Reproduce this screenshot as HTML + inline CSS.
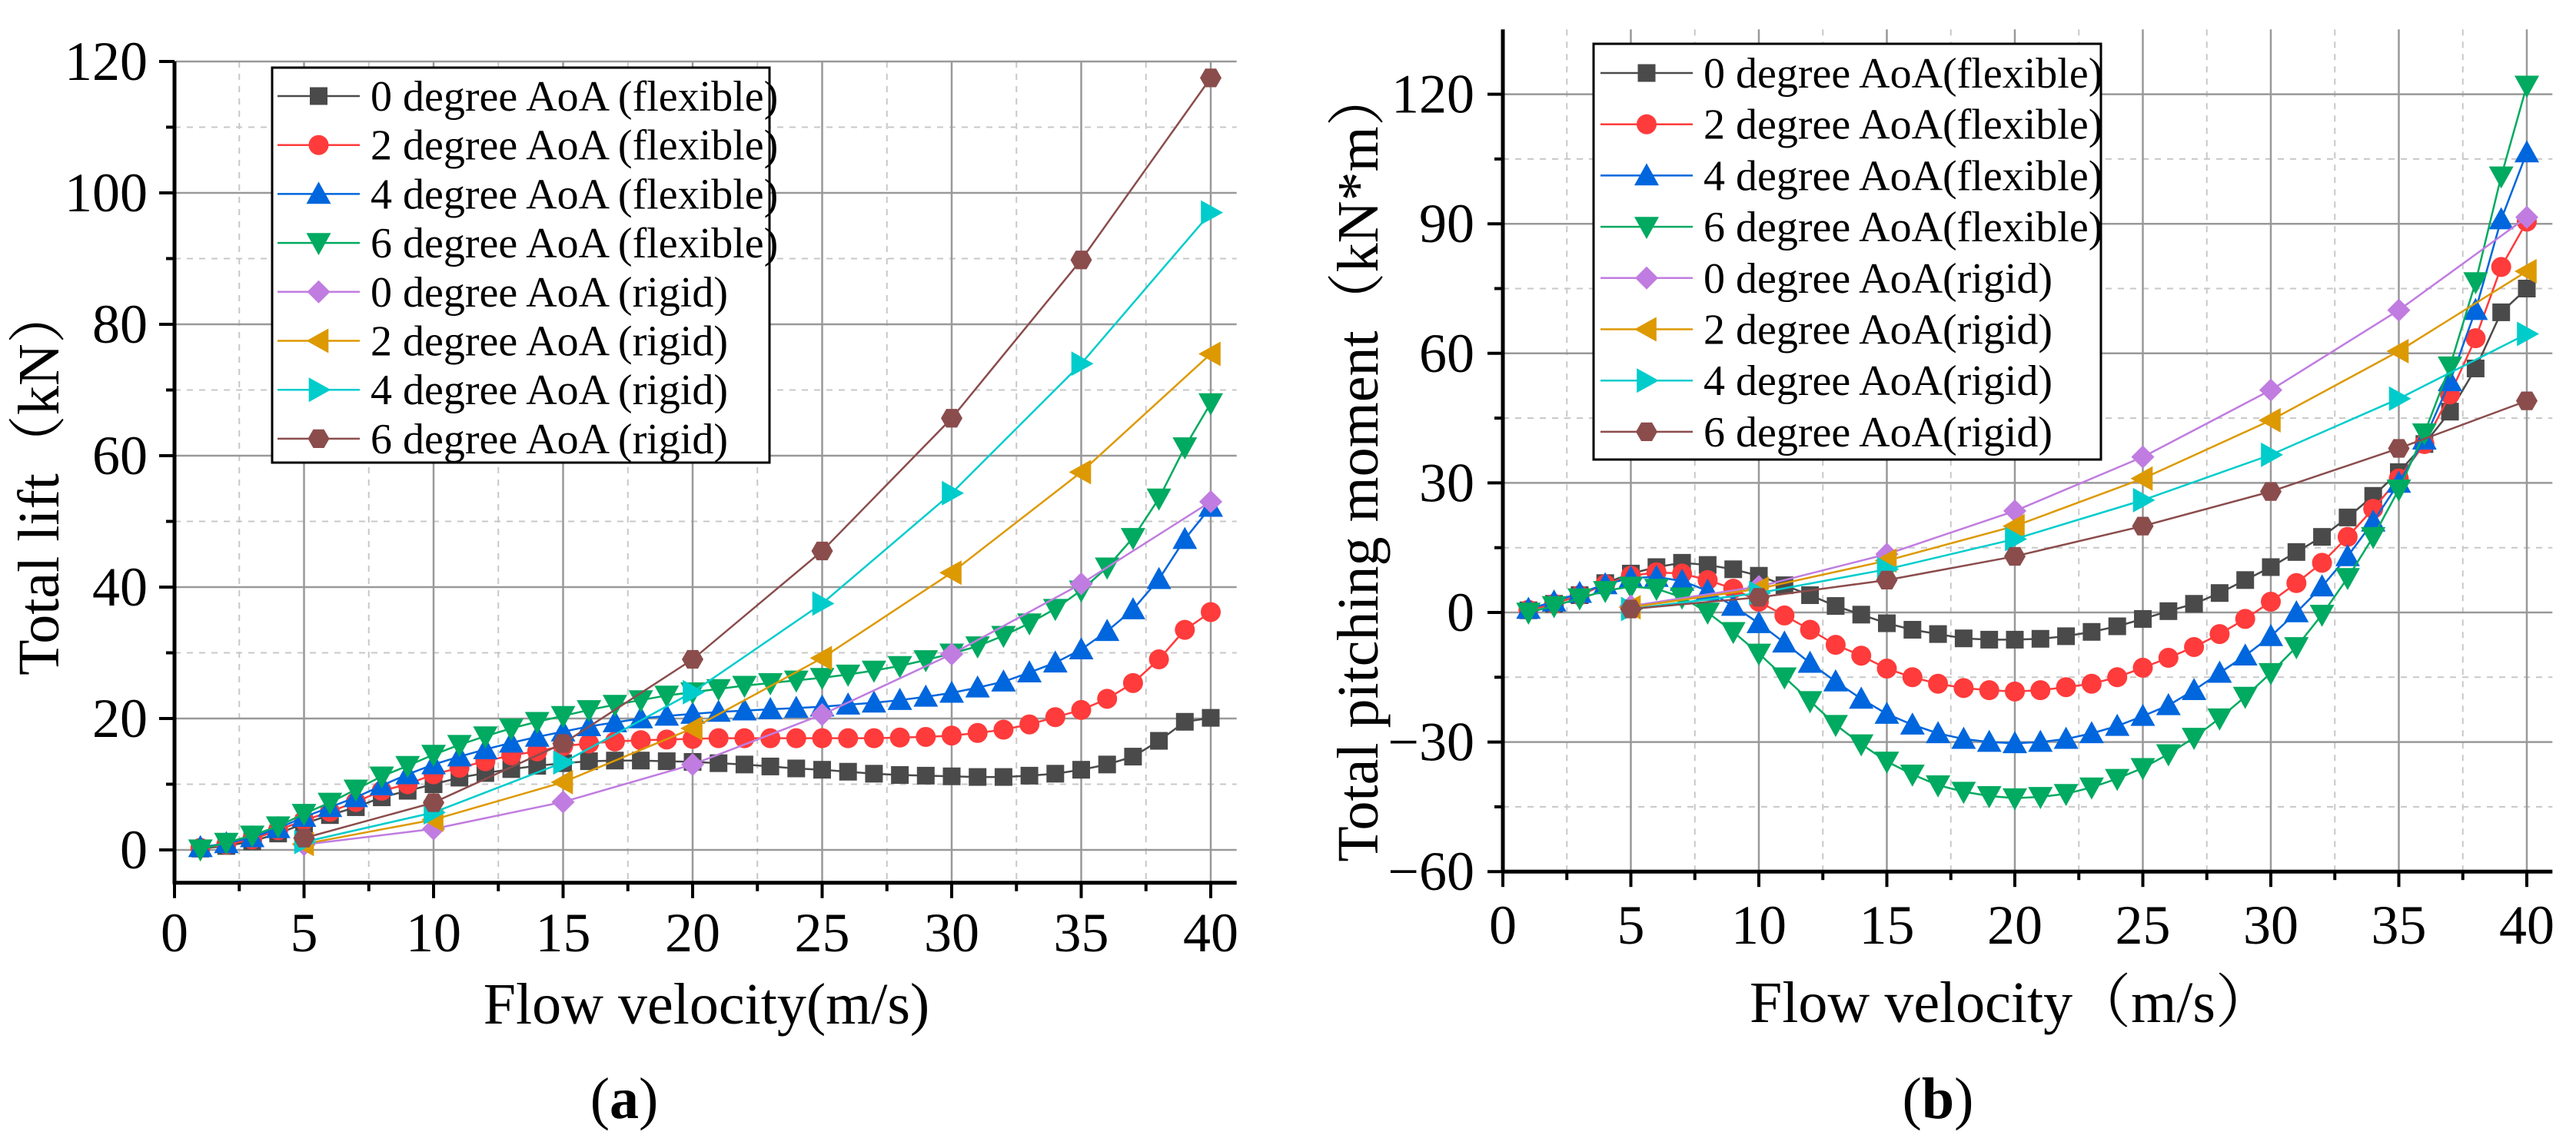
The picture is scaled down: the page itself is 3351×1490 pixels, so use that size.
<!DOCTYPE html>
<html><head><meta charset="utf-8"><style>
html,body{margin:0;padding:0;background:#fff}
svg{display:block;font-family:"Liberation Serif","Times New Roman","Noto Serif CJK SC",serif}
svg text{font-family:"Liberation Serif","Times New Roman","Noto Serif CJK SC",serif;fill:#000}
</style></head><body>
<svg id="fig" width="3351" height="1490" viewBox="0 0 3351 1490" xmlns="http://www.w3.org/2000/svg" font-family="Liberation Serif, Noto Serif CJK SC, serif"></svg>
<script>
const velocities = Array.from({length:40},(_,i)=>i+1);
const rigidVelocities = [5,10,15,20,25,30,35,40];
const xTicks = [0,5,10,15,20,25,30,35,40];
const liftYTicks = [0,20,40,60,80,100,120];
const momentYTicks = [-60,-30,0,30,60,90,120];

const lift0f=[0.2,0.6,1.3,2.5,4,5.3,6.5,8,9,10,11,11.7,12.3,12.8,13.2,13.5,13.6,13.6,13.5,13.4,13.2,13,12.7,12.4,12.2,11.9,11.6,11.4,11.3,11.2,11.1,11.1,11.3,11.6,12.2,13,14.2,16.6,19.5,20.1];
const lift2f=[0.3,0.8,1.6,3,4.5,5.8,7.3,9,10,11.5,12.5,13.5,14.4,15,15.8,16.2,16.5,16.7,16.8,16.9,17,17,17,17,17,17,17,17.1,17.2,17.4,17.8,18.3,19.1,20.2,21.3,23,25.4,29,33.5,36.2];
const lift4f=[0.4,1,1.9,3.3,5,6.5,8,9.8,11.5,13,14.2,15.3,16.3,17.2,18,18.8,19.4,20,20.4,20.7,21,21.2,21.4,21.6,21.8,22.1,22.4,22.8,23.3,23.9,24.7,25.6,27,28.5,30.5,33.3,36.6,41.2,47.3,52.2];
const lift6f=[0.1,1.1,2.2,3.6,5.5,7.2,9.2,11.2,12.8,14.5,16,17.3,18.5,19.5,20.4,21.3,22.1,22.8,23.5,24,24.5,25,25.4,25.8,26.2,26.7,27.3,28,28.9,29.9,31,32.6,34.5,36.7,39.5,43,47.5,53.5,61.3,68];
const lift0r=[0.8,3.2,7.3,13,20.6,29.8,40.5,53];
const lift2r=[0.9,4.6,10.3,18.5,29.2,42.2,57.5,75.5];
const lift4r=[1.2,5.7,13.3,24,37.5,54.3,74,97];
const lift6r=[1.8,7.2,16.2,29,45.5,65.7,89.8,117.5];

const mom0f=[0.5,2,4,6.8,9,10.5,11.5,11,10,8.5,6.3,4,1.5,-0.5,-2.5,-4,-5,-6,-6.3,-6.3,-6.1,-5.5,-4.5,-3.2,-1.5,0.3,2,4.5,7.5,10.5,14,17.5,22,27,32.5,39,46.5,56.5,69.5,75];
const mom2f=[0.6,2,4,6.5,8.5,9.3,9,7.5,5.5,2.5,-0.7,-4,-7.5,-10,-13,-15,-16.5,-17.5,-18,-18.3,-18,-17.3,-16.5,-15,-12.8,-10.5,-8,-5,-1.5,2.5,6.8,11.5,17.5,24,31,39,50.5,63.5,80,90.5];
const mom4f=[0.8,2.5,4.5,6.5,8,8.2,7.3,5,1.5,-2.5,-7,-11.7,-16,-20,-23.5,-26,-28,-29.3,-30,-30.3,-30,-29.3,-28,-26.3,-24,-21.5,-18,-14,-10,-5.5,0,6,13,21,30,40,53.5,70,91,106.5];
const mom6f=[0,1.5,3.3,5,6,5.5,3.5,0,-4.5,-9.5,-15,-20.5,-26,-30.5,-34.5,-37.5,-40,-41.5,-42.5,-43,-42.7,-42,-40.5,-38.5,-36,-32.8,-29,-24.5,-19.5,-14,-8,-0.5,8,17.5,28.5,41.5,57,76.5,101,122];
const mom0r=[1.5,6,13.5,23.5,36,51.5,70,91.5];
const mom2r=[1.2,5.5,12,20,31,44.5,60.5,79];
const mom4r=[0.8,4.5,10,17,26,36.5,49.5,64.5];
const mom6r=[0.8,3.5,7.5,13,20,28,38,49];

const NS="http://www.w3.org/2000/svg";
const FONT='"Liberation Serif","Noto Serif CJK SC",serif';
const svg=document.getElementById('fig');
function mk(tag,attrs,parent){const e=document.createElementNS(NS,tag);for(const k in attrs)e.setAttribute(k,attrs[k]);if(tag==='text'){e.setAttribute('font-family',FONT);e.style.fontFamily=FONT;}(parent||svg).appendChild(e);return e;}

const styles=[
 {c:'#4a4a4a',m:'square'},{c:'#ff3b3b',m:'circle'},{c:'#0066dd',m:'up'},{c:'#00aa60',m:'down'},
 {c:'#c07ce0',m:'diamond'},{c:'#dd9900',m:'left'},{c:'#00cccc',m:'right'},{c:'#8b4c4c',m:'hex'}];

function marker(g,type,x,y,c){
  let e;
  if(type==='square') e=mk('rect',{x:x-11.5,y:y-11.5,width:23,height:23,fill:c},g);
  else if(type==='circle') e=mk('circle',{cx:x,cy:y,r:13,fill:c},g);
  else {
    let p;
    const s=16;
    if(type==='up') p=[[x,y-s],[x+s,y+s*0.8],[x-s,y+s*0.8]];
    else if(type==='down') p=[[x,y+s],[x+s,y-s*0.8],[x-s,y-s*0.8]];
    else if(type==='left') p=[[x-s,y],[x+s*0.8,y-s],[x+s*0.8,y+s]];
    else if(type==='right') p=[[x+s,y],[x-s*0.8,y-s],[x-s*0.8,y+s]];
    else if(type==='diamond') p=[[x,y-15],[x+15,y],[x,y+15],[x-15,y]];
    else {p=[];for(let i=0;i<6;i++){const a=Math.PI/3*i;p.push([x+14*Math.cos(a),y+14*Math.sin(a)]);}}
    e=mk('polygon',{points:p.map(q=>q.join(',')).join(' '),fill:c},g);
  }
  
  
}

function chart(cfg){
  const g=mk('g',{});
  
  
  const X=v=>cfg.x0+(v)*cfg.px;
  const Y=v=>cfg.y0-(v-cfg.yZero)*cfg.py;
  const left=X(0), right=X(41), top=Y(cfg.yMax), bottom=Y(cfg.yMin);
  for(let v=2.5;v<41;v+=5){const l=mk('line',{x1:X(v),x2:X(v),y1:top,y2:bottom,stroke:'#c8c8c8','stroke-width':2,'stroke-dasharray':'8,8'},g);}
  for(let i=0;i<cfg.yTicks.length-1;i++){const v=(cfg.yTicks[i]+cfg.yTicks[i+1])/2;const l=mk('line',{x1:left,x2:right,y1:Y(v),y2:Y(v),stroke:'#c8c8c8','stroke-width':2,'stroke-dasharray':'8,8'},g);}
  xTicks.forEach(v=>{if(v>0){const l=mk('line',{x1:X(v),x2:X(v),y1:top,y2:bottom,stroke:'#999','stroke-width':2.5},g);}});
  cfg.yTicks.forEach(v=>{const l=mk('line',{x1:left,x2:right,y1:Y(v),y2:Y(v),stroke:'#999','stroke-width':2.5},g);});
  const all=cfg.series;
  all.forEach((s,i)=>{
    const st=styles[i];
    const sg=mk('g',{},g);
    
    
    const pts=s.y.map((v,k)=>[X(s.x[k]),Y(v)]);
    mk('polyline',{points:pts.map(p=>p.join(',')).join(' '),fill:'none',stroke:st.c,'stroke-width':2.5},sg);
    pts.forEach(p=>marker(sg,st.m,p[0],p[1],st.c));
  });
  const ax=mk('line',{x1:left,x2:left,y1:top,y2:bottom+2,stroke:'#000','stroke-width':5},g);
  
  const bx=mk('line',{x1:left-2,x2:right,y1:bottom,y2:bottom,stroke:'#000','stroke-width':5},g);
  
  xTicks.forEach(v=>{
    mk('line',{x1:X(v),x2:X(v),y1:bottom,y2:bottom+20,stroke:'#000','stroke-width':4},g);
    if(v<40) mk('line',{x1:X(v+2.5),x2:X(v+2.5),y1:bottom,y2:bottom+11,stroke:'#000','stroke-width':4},g);
    const t=mk('text',{x:X(v),y:cfg.xLabelY,'font-size':72,'text-anchor':'middle'},g);
    t.textContent=v;
    
  });
  cfg.yTicks.forEach((v,i)=>{
    mk('line',{x1:left-20,x2:left,y1:Y(v),y2:Y(v),stroke:'#000','stroke-width':4},g);
    if(i<cfg.yTicks.length-1) mk('line',{x1:left-11,x2:left,y1:Y((v+cfg.yTicks[i+1])/2),y2:Y((v+cfg.yTicks[i+1])/2),stroke:'#000','stroke-width':4},g);
    const t=mk('text',{x:cfg.yLabelX,y:Y(v)+24,'font-size':72,'text-anchor':'end'},g);
    t.textContent=(v<0?'\u2212'+(-v):v);
    
  });
  const xt=mk('text',{x:cfg.xTitleX,y:cfg.xTitleY,'font-size':76,'text-anchor':'middle'},g);
  xt.textContent=cfg.xTitle;
  const yt=mk('text',{x:0,y:0,'font-size':76,'text-anchor':'middle',transform:`translate(${cfg.yTitleX},${cfg.yTitleY}) rotate(-90)`},g);
  yt.textContent=cfg.yTitle;
  const pl=mk('text',{x:cfg.panelX,y:1455,'font-size':76,'text-anchor':'middle'},g);
  pl.innerHTML='(<tspan font-weight="bold">'+cfg.panel+'</tspan>)';
  
  const lg=mk('g',{},g);
  
  mk('rect',{x:cfg.lg.x,y:cfg.lg.y,width:cfg.lg.w,height:cfg.lg.h,fill:'#fff',stroke:'#000','stroke-width':3},lg);
  all.forEach((s,i)=>{
    const st=styles[i];
    const cy=cfg.lg.row0+i*cfg.lg.dy;
    const e=mk('g',{},lg);
    
    mk('line',{x1:cfg.lg.l1,x2:cfg.lg.l2,y1:cy,y2:cy,stroke:st.c,'stroke-width':2.5},e);
    marker(e,st.m,(cfg.lg.l1+cfg.lg.l2)/2,cy,st.c);
    const t=mk('text',{x:cfg.lg.tx,y:cy+19,'font-size':56},e);
    t.textContent=s.label;
  });
}

chart({name:'lift-chart',panel:'a',panelX:812,x0:227,px:33.7,y0:1106,yZero:0,py:8.55,yMin:-5,yMax:120,yTicks:liftYTicks,
 xLabelY:1238,yLabelX:192,xTitle:'Flow velocity(m/s)',xTitleX:919,xTitleY:1332,yTitle:'Total lift（kN）',yTitleX:76,yTitleY:625,
 lg:{x:354,y:88,w:647,h:514,row0:125,dy:63.7,l1:361,l2:468,tx:482},
 series:[
  {label:'0 degree AoA (flexible)',x:velocities,y:lift0f},{label:'2 degree AoA (flexible)',x:velocities,y:lift2f},
  {label:'4 degree AoA (flexible)',x:velocities,y:lift4f},{label:'6 degree AoA (flexible)',x:velocities,y:lift6f},
  {label:'0 degree AoA (rigid)',x:rigidVelocities,y:lift0r},{label:'2 degree AoA (rigid)',x:rigidVelocities,y:lift2r},
  {label:'4 degree AoA (rigid)',x:rigidVelocities,y:lift4r},{label:'6 degree AoA (rigid)',x:rigidVelocities,y:lift6r}]});

chart({name:'moment-chart',panel:'b',panelX:2521,x0:1955,px:33.3,y0:797,yZero:0,py:5.62,yMin:-60,yMax:135,yTicks:momentYTicks,
 xLabelY:1228,yLabelX:1918,xTitle:'Flow velocity（m/s）',xTitleX:2617,xTitleY:1330,yTitle:'Total pitching moment（kN*m）',yTitleX:1792,yTitleY:605,
 lg:{x:2073,y:57,w:660,h:541,row0:95,dy:66.7,l1:2082,l2:2202,tx:2216},
 series:[
  {label:'0 degree AoA(flexible)',x:velocities,y:mom0f},{label:'2 degree AoA(flexible)',x:velocities,y:mom2f},
  {label:'4 degree AoA(flexible)',x:velocities,y:mom4f},{label:'6 degree AoA(flexible)',x:velocities,y:mom6f},
  {label:'0 degree AoA(rigid)',x:rigidVelocities,y:mom0r},{label:'2 degree AoA(rigid)',x:rigidVelocities,y:mom2r},
  {label:'4 degree AoA(rigid)',x:rigidVelocities,y:mom4r},{label:'6 degree AoA(rigid)',x:rigidVelocities,y:mom6r}]});
</script>
</body></html>
